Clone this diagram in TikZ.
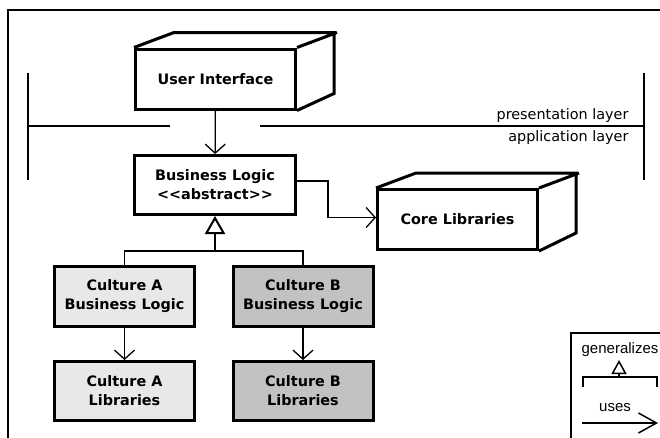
\documentclass[tikz,border=0pt]{standalone}
\usepackage{fontspec}
\setmainfont{DejaVu Sans}
\newfontfamily\legendfont{Liberation Sans}
\usetikzlibrary{positioning,arrows.meta}
\tikzset{
box/.style={draw=black, line width=3pt, fill=white, align=center,
    font=\fontsize{14.4}{19}\selectfont\bfseries,
    minimum width=160pt, minimum height=60pt, inner sep=0pt},
cbox/.style={box, minimum width=140pt},
culta/.style={cbox, fill=black!9},
cultb/.style={cbox, fill=black!24},
box3d/.style={draw=black, line width=3pt, line join=miter},
uses/.style={line width=1.3pt, -{Straight Barb[length=9pt,width=20pt]}},
gen/.style={line width=2.6pt, -{Triangle[open,length=18pt,width=20pt,line width=2pt]}},
layer/.style={line width=1.3pt}
}
\begin{document}
\begin{tikzpicture}[x=1pt,y=-1pt]
\useasboundingbox (0,0) rectangle (660,437);
% frame
\draw[line width=1.5pt] (8,440) -- (8,10) -- (663,10);

% layers
\draw[layer] (28,73) -- (28,180) (28,126) -- (170,126)
    (260,126) -- (644,126) (644,73) -- (644,180);
\node[anchor=base east, font=\fontsize{14.4}{17}\selectfont] (pres) at (632,119) {presentation layer};
\node[anchor=base east, font=\fontsize{14.4}{17}\selectfont] (appl) at (632,141) {application layer};

% nodes
\node[box] (ui) at (215.5,79) {User Interface};
\draw[box3d] (ui.north west) -- ++(40,-15) -- ++(160,0) -- ++(0,61) -- (ui.south east)
    (ui.north east) -- ++(40,-15);
\node[box, minimum width=161pt, minimum height=59pt] (bl) at (215,185) {Business Logic\\<{}<abstract>{}>};
\node[box] (core) at (457.5,219.5) {Core Libraries};
\draw[box3d] (core.north west) -- ++(40,-15) -- ++(160,0) -- ++(0,60) -- (core.south east)
    (core.north east) -- ++(40,-15);
\node[culta] (cabl) at (124.5,296.5) {Culture A\\Business Logic};
\node[cultb] (cbbl) at (303,296.5) {Culture B\\Business Logic};
\node[culta, minimum height=59pt] (calib) at (124.5,391) {Culture A\\Libraries};
\node[cultb, minimum height=59pt] (cblib) at (303,391) {Culture B\\Libraries};

% connectors
\draw[uses] (ui) -- (bl);
\draw[uses] ([yshift=4pt]bl.east) -- ++(31,0) |- ([yshift=2pt]core.west);
\coordinate (join) at (215,251);
\draw[gen] (join) -- (bl.south);
\draw[line width=1.3pt] (cabl.north) |- (join) -| (cbbl.north);
\draw[uses] (cabl) -- (calib);
\draw[uses] (cbbl) -- (cblib);

% legend
\draw[line width=1.3pt] (571,440) -- (571,333) -- (663,333);
\node[font=\legendfont\fontsize{15}{17}\selectfont] (lgen) at (620,350) {generalizes};
\coordinate (brl) at (583,387);
\coordinate (brr) at (657,387);
\coordinate (brm) at (619,377);
\draw[line width=1.3pt] (brl) -- (583,377) -- (657,377) -- (brr);
\draw[line width=1.3pt, -{Triangle[open,length=14pt,width=15pt,line width=1.5pt]}] (brm) -- ++(0,-17);
\node[font=\legendfont\fontsize{15}{17}\selectfont] (luse) at (615,408) {uses};
\coordinate (ua) at (582,423);
\coordinate (ub) at (658,423);
\draw[line width=1.5pt, -{Straight Barb[length=18pt,width=20pt]}] (ua) -- (ub);
\end{tikzpicture}
\end{document}
